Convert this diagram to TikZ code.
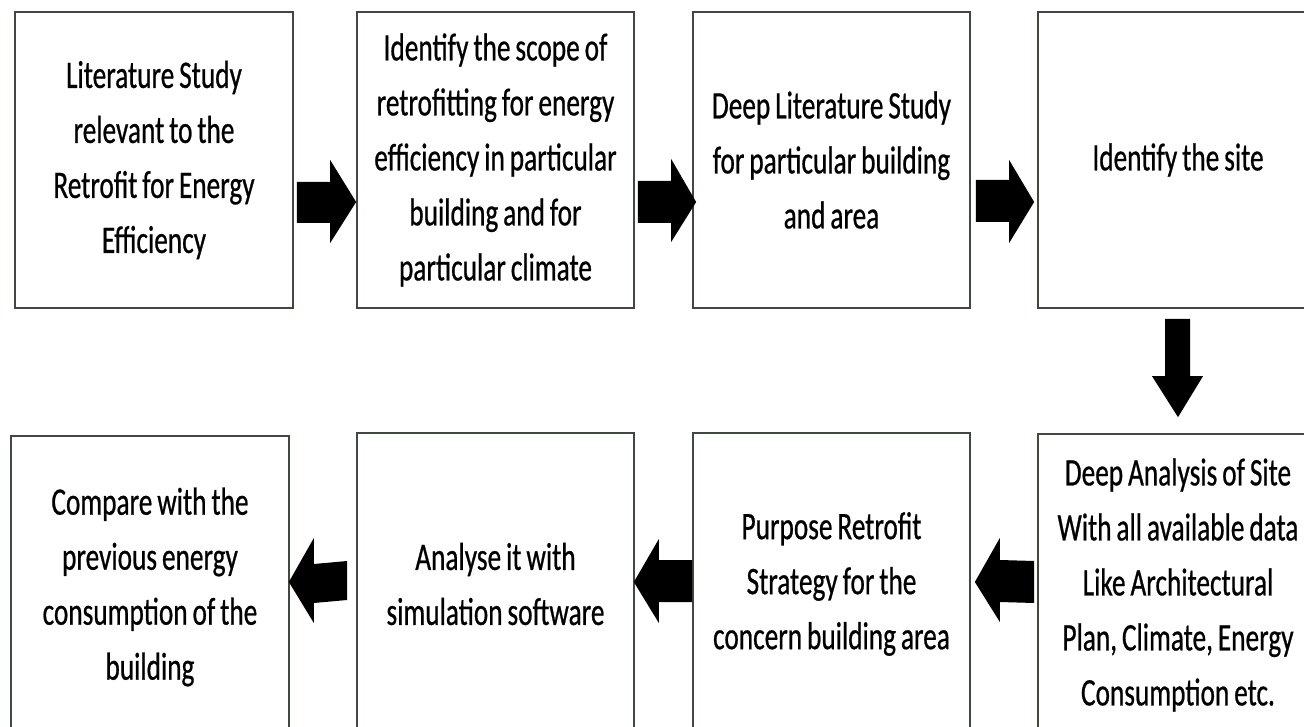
\documentclass[tikz,border=0pt]{standalone}
\usepackage{fontspec}
\setmainfont{Carlito}[FakeStretch=0.70, FakeBold=0.6, WordSpace=0.8]
\usetikzlibrary{calc}
\definecolor{boxline}{HTML}{3F4A3F}
\begin{document}
\begin{tikzpicture}[x=1pt,y=-1pt,
  box/.style={draw=boxline, line width=1.7pt, fill=white, inner sep=0pt,
    align=center, font=\fontsize{39}{55}\selectfont},
  topbox/.style={box, minimum height=296pt},
  botbox/.style={box, minimum height=302pt},
  blk/.style={fill=black}]
\clip (0,0) rectangle (1304,727);
\fill[white] (0,0) rectangle (1304,727);
% top row
\node[topbox, minimum width=278pt] (b1) at (154,160)
  {Literature Study\\relevant to the\\Retrofit for Energy\\Efficiency};
\node[topbox, minimum width=277pt] (b2) at (495.5,160)
  {Identify the scope of\\retrofitting for energy\\efficiency in particular\\building and for\\particular climate};
\node[topbox, minimum width=277pt] (b3) at (831.5,160)
  {Deep Literature Study\\for particular building\\and area};
\node[topbox, minimum width=280pt] (b4) at (1178,160)
  {Identify the site};
% bottom row
\node[botbox, minimum width=278pt] (b5) at (150,587)
  {Compare with the\\previous energy\\consumption of the\\building};
\node[botbox, minimum width=277pt] (b6) at (495.5,584)
  {Analyse it with\\simulation software};
\node[botbox, minimum width=277pt] (b7) at (831.5,584)
  {Purpose Retrofit\\Strategy for the\\concern building area};
\node[botbox, minimum width=280pt] (b8) at (1178,585)
  {Deep Analysis of Site\\With all available data\\Like Architectural\\Plan, Climate, Energy\\Consumption etc.};
% right arrows (top row)
\fill[blk] ($(b1.east)+(3,22)$) -- ($(b2.west)+(-26,22)$) -- ($(b2.west)+(-26,0)$)
  -- ($(b2.west)+(0,42)$) -- ($(b2.west)+(-26,83)$) -- ($(b2.west)+(-26,63)$)
  -- ($(b1.east)+(3,63)$) -- cycle;
\fill[blk] ($(b2.east)+(3,21)$) -- ($(b3.west)+(-21,21)$) -- ($(b3.west)+(-21,-1)$)
  -- ($(b3.west)+(4,42)$) -- ($(b3.west)+(-21,82)$) -- ($(b3.west)+(-21,63)$)
  -- ($(b2.east)+(3,63)$) -- cycle;
\fill[blk] ($(b3.east)+(5,20)$) -- ($(b4.west)+(-28,20)$) -- ($(b4.west)+(-28,0)$)
  -- ($(b4.west)+(-3,42)$) -- ($(b4.west)+(-28,83)$) -- ($(b4.west)+(-28,62)$)
  -- ($(b3.east)+(5,62)$) -- cycle;
% down arrow
\fill[blk] ($(b4.south)+(-13,10)$) -- ($(b4.south)+(12,10)$) -- ($(b8.north)+(12,-57)$)
  -- ($(b8.north)+(25,-57)$) -- ($(b8.north)+(0,-16)$) -- ($(b8.north)+(-26,-57)$)
  -- ($(b8.north)+(-13,-57)$) -- cycle;
% left arrows (bottom row)
\fill[blk] ($(b8.west)+(-3,-24)$) -- ($(b7.east)+(29,-24)$) -- ($(b7.east)+(29,-46)$)
  -- ($(b7.east)+(4,-2)$) -- ($(b7.east)+(29,38)$) -- ($(b7.east)+(29,18)$)
  -- ($(b8.west)+(-3,18)$) -- cycle;
\fill[blk] ($(b7.west)+(0,-24)$) -- ($(b6.east)+(24,-24)$) -- ($(b6.east)+(24,-45)$)
  -- ($(b6.east)+(-1,-2)$) -- ($(b6.east)+(24,39)$) -- ($(b6.east)+(24,18)$)
  -- ($(b7.west)+(0,18)$) -- cycle;
\fill[blk] ($(b6.west)+(-9,-23)$) -- ($(b5.east)+(24,-23)$) -- ($(b5.east)+(24,-49)$)
  -- ($(b5.east)+(-1,-5)$) -- ($(b5.east)+(24,36)$) -- ($(b5.east)+(24,16)$)
  -- ($(b6.west)+(-9,16)$) -- cycle;
\end{tikzpicture}
\end{document}
